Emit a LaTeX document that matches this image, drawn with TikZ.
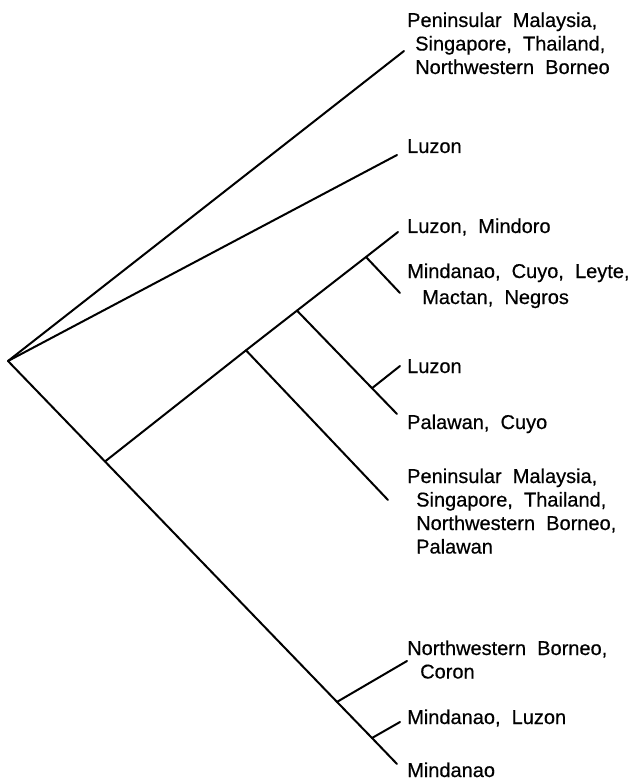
\documentclass[tikz,border=0pt]{standalone}
\usepackage{fontspec}
\setmainfont{Liberation Sans}[WordSpace=2, FakeBold=0.5]
\usepackage{tikz}
\usetikzlibrary{positioning}
\tikzset{
  branch/.style={line width=2pt, line cap=round, line join=round},
  taxon/.style={anchor=base west, inner sep=0pt, align=left, font=\fontsize{20}{23.5}\selectfont},
}

\begin{document}
\begin{tikzpicture}[x=1pt, y=-1pt]
  \useasboundingbox (0,0) rectangle (635,783);

  % root and forks
  \coordinate (root) at (8,361);
  \coordinate (f1) at (105,461.5);
  \coordinate (f2) at (246,350.3);
  \coordinate (f3) at (297,310.6);
  \coordinate (f4) at (366,257);
  \coordinate (f5) at (372,388.2);
  \coordinate (f6) at (337,701.9);
  \coordinate (f7) at (372,738);

  % branch tips
  \coordinate (t1) at (404,51);
  \coordinate (t2) at (397,155);
  \coordinate (t3) at (398,232);
  \coordinate (t4) at (400,293);
  \coordinate (t5) at (400,366);
  \coordinate (t6) at (397,414);
  \coordinate (t7) at (388,500);
  \coordinate (t8) at (407,661);
  \coordinate (t9) at (400,722);
  \coordinate (t10) at (397,764);

  % branches
  \draw[branch] (root) -- (t1);
  \draw[branch] (root) -- (t2);
  \draw[branch] (root) -- (f1) -- (f6) -- (f7) -- (t10);
  \draw[branch] (f1) -- (f2) -- (f3) -- (f4) -- (t3);
  \draw[branch] (f4) -- (t4);
  \draw[branch] (f3) -- (f5) -- (t6);
  \draw[branch] (f5) -- (t5);
  \draw[branch] (f2) -- (t7);
  \draw[branch] (f6) -- (t8);
  \draw[branch] (f7) -- (t9);

  % localities (multi-line ones sit on their last line)
  \node[taxon] (l1) at (407,74) {Peninsular Malaysia,\\\hspace*{8pt}Singapore, Thailand,\\\hspace*{8pt}Northwestern Borneo};
  \node[taxon] (l2) at (407,153) {Luzon};
  \node[taxon] (l3) at (407,233) {Luzon, Mindoro};
  \node[taxon, font=\fontsize{20}{26}\selectfont] (l4) at (407,304) {Mindanao, Cuyo, Leyte,\\\hspace*{15pt}Mactan, Negros};
  \node[taxon] (l5) at (407,373) {Luzon};
  \node[taxon] (l6) at (407,429) {Palawan, Cuyo};
  \node[taxon] (l7) at (407,553.5) {Peninsular Malaysia,\\\hspace*{9pt}Singapore, Thailand,\\\hspace*{9pt}Northwestern Borneo,\\\hspace*{9pt}Palawan};
  \node[taxon] (l8) at (407,678.5) {Northwestern Borneo,\\\hspace*{13pt}Coron};
  \node[taxon] (l9) at (407,724) {Mindanao, Luzon};
  \node[taxon] (l10) at (407,777) {Mindanao};
\end{tikzpicture}
\end{document}
